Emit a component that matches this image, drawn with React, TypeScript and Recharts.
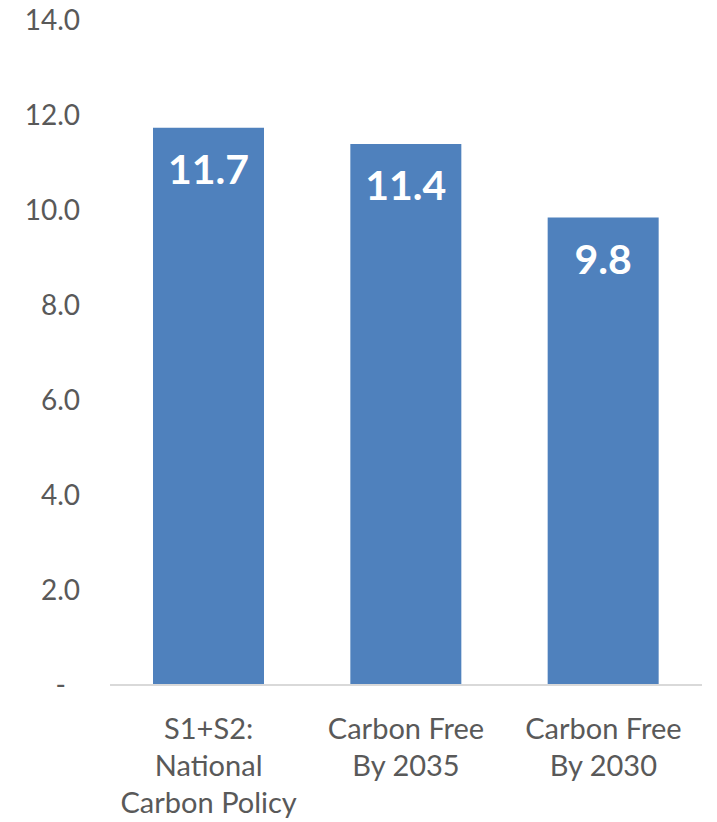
import React from "react";
import { BarChart, Bar, XAxis, YAxis, LabelList } from "recharts";

// Scenario names (line breaks mark how each label wraps under its bar)
const scenarios = [
  "S1+S2:\nNational\nCarbon Policy",
  "Carbon Free\nBy 2035",
  "Carbon Free\nBy 2030",
];

// Values per scenario
const values = [11.73, 11.39, 9.84];

// Value axis ticks
const yTicks = [0, 2, 4, 6, 8, 10, 12, 14];

const data = scenarios.map((name, i) => ({ name, value: values[i] }));

const FONT = "Lato, 'Open Sans', sans-serif";
const TEXT_GRAY = "#595959";
const BAR_BLUE = "#4F81BD";

const YTick = (props: any) => {
  const { x, y, payload } = props;
  const isZero = payload.value === 0;
  return (
    <text
      x={isZero ? x - 14 : x}
      y={y}
      dy="0.355em"
      textAnchor="end"
      fill={TEXT_GRAY}
      fontSize={28}
      fontFamily={FONT}
    >
      {isZero ? "-" : Number(payload.value).toFixed(1)}
    </text>
  );
};

const XTick = (props: any) => {
  const { x, y, payload } = props;
  const lines = String(payload.value).split("\n");
  return (
    <text
      x={x}
      y={y}
      textAnchor="middle"
      fill={TEXT_GRAY}
      fontSize={29}
      fontFamily={FONT}
    >
      {lines.map((line, i) => (
        <tspan key={i} x={x} dy={i === 0 ? 54 : 37}>
          {line}
        </tspan>
      ))}
    </text>
  );
};

export default function App() {
  return (
    <div style={{ position: "absolute", left: 0, top: 0, background: "#fff" }}>
      <BarChart
        width={717}
        height={822}
        data={data}
        margin={{ top: 20, right: 15, left: 0, bottom: 0 }}
        barSize={111}
        style={{ fontFamily: FONT }}
      >
        <XAxis
          dataKey="name"
          height={137}
          tickLine={false}
          tickSize={0}
          tickMargin={0}
          axisLine={{ stroke: "#D9D9D9", strokeWidth: 2 }}
          tick={<XTick />}
          interval={0}
        />
        <YAxis
          width={110}
          domain={[0, 14]}
          ticks={yTicks}
          axisLine={false}
          tickLine={false}
          tickSize={0}
          tickMargin={30}
          tick={<YTick />}
          interval={0}
        />
        <Bar dataKey="value" fill={BAR_BLUE} isAnimationActive={false}>
          <LabelList
            dataKey="value"
            position="insideTop"
            offset={27}
            fill="#FFFFFF"
            fontSize={41}
            fontWeight="bold"
            fontFamily={FONT}
            formatter={(v: any) => Number(v).toFixed(1)}
          />
        </Bar>
      </BarChart>
    </div>
  );
}
